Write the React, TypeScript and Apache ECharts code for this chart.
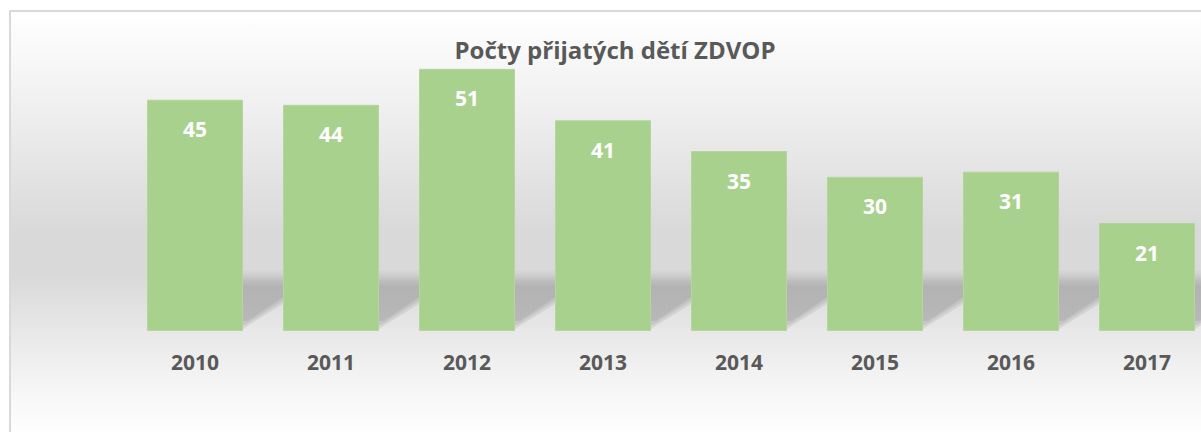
import React, { useEffect, useRef } from "react";
import * as echarts from "echarts";

const years = ["2010", "2011", "2012", "2013", "2014", "2015", "2016", "2017"];
const counts = [45, 44, 51, 41, 35, 30, 31, 21];
const titleText = "Počty přijatých dětí ZDVOP";

const FONT = "'Open Sans', 'Noto Sans', sans-serif";

export default function App() {
  const ref = useRef<HTMLDivElement>(null);
  useEffect(() => {
    if (!ref.current) return;
    const chart = echarts.init(ref.current, undefined, { renderer: "svg" });
    chart.setOption({
      animation: false,
      title: {
        text: titleText,
        left: 610,
        textAlign: "center",
        top: 32,
        textStyle: { fontFamily: FONT, fontWeight: "bold", fontSize: 24, color: "#595959" },
      },
      graphic: [
        {
          type: "rect",
          z: -10,
          silent: true,
          shape: { x: 10, y: 11, width: 1300, height: 440 },
          style: {
            stroke: "#d9d9d9",
            lineWidth: 2,
            fill: new echarts.graphic.LinearGradient(0, 0, 0, 1, [
              { offset: 0, color: "#ffffff" },
              { offset: 0.2, color: "#f1f1f1" },
              { offset: 0.5, color: "#d9d9d9" },
              { offset: 0.6, color: "#d9d9d9" },
              { offset: 0.73, color: "#e8e8e8" },
              { offset: 0.84, color: "#f4f4f4" },
              { offset: 0.96, color: "#fefefe" },
              { offset: 1, color: "#ffffff" },
            ]),
          },
        },
      ],
      grid: { left: 127, right: 5, top: 22.6, bottom: 101 },
      xAxis: {
        type: "category",
        data: years,
        axisLine: { show: false },
        axisTick: { show: false },
        axisLabel: {
          margin: 20,
          fontFamily: FONT,
          fontWeight: "bold",
          fontSize: 21,
          color: "#595959",
        },
      },
      yAxis: { type: "value", min: 0, max: 60, show: false, splitLine: { show: false } },
      series: [
        {
          type: "custom",
          z: 1,
          silent: true,
          data: counts.map((v, i) => [i, v]),
          renderItem: (params: any, api: any) => {
            const idx = api.value(0);
            const base = api.coord([idx, 0]);
            const top = api.coord([idx, 11.8]);
            const band = api.size([1, 0])[0];
            const xr = base[0] + band * 0.353;
            const layers = [0, 4, 8];
            return {
              type: "group",
              children: layers.map((d, k) => ({
                type: "polygon",
                shape: {
                  points: [
                    [xr - 4, top[1] + d],
                    [xr + 70, top[1] + d],
                    [xr + 70, base[1] - 46 - d],
                    [xr + d * 0.6, base[1] - 2 - d],
                    [xr - 4, base[1] - 2 - d],
                  ],
                },
                style: {
                  fill: new echarts.graphic.LinearGradient(0, 0, 0, 1, [
                    { offset: 0, color: "rgba(0,0,0,0.02)" },
                    { offset: 0.25, color: "rgba(0,0,0,0.07)" },
                    { offset: 1, color: "rgba(0,0,0,0.07)" },
                  ]),
                },
              })),
            };
          },
        },
        {
          type: "bar",
          z: 3,
          data: counts,
          barWidth: "70.6%",
          itemStyle: { color: "#a9d18e", borderColor: "#b3d69c", borderWidth: 1 },
          label: {
            show: true,
            position: "insideTop",
            distance: 19,
            fontFamily: FONT,
            fontWeight: "bold",
            fontSize: 21,
            color: "#ffffff",
          },
        },
      ],
    });
    return () => chart.dispose();
  }, []);
  return (
    <div style={{ position: "absolute", left: 0, top: 0, width: 1201, height: 432, overflow: "hidden", background: "#fff" }}>
      <div ref={ref} style={{ width: 1220, height: 432 }} />
    </div>
  );
}
